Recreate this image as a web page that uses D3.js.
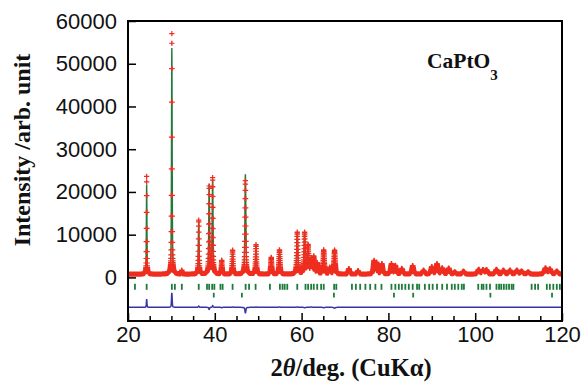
<!DOCTYPE html>
<html>
<head>
<meta charset="utf-8">
<script src="https://cdn.jsdelivr.net/npm/d3@7"></script>
<style>
  body { margin: 0; background: #fff; }
  svg { display: block; }
</style>
</head>
<body>
<svg id="chart" width="581" height="383"></svg>
<script>
const peakPos  = [24.3, 30.1, 32.4, 36.3, 38.7, 39.5, 41.6, 44.1, 47.05, 49.5, 53.0, 54.9, 59.0, 60.7, 61.5, 62.2, 62.8, 63.6, 65.1, 66.5, 67.6,
                  70.9, 73.0, 76.7, 77.3, 78.5, 80.7, 81.6, 83.1, 85.6, 88.1, 90.0, 91.2, 92.4, 93.9, 95.3, 97.3,
                  100.8, 101.8, 102.6, 104.9, 106.5, 108.0, 109.6, 110.7, 112.2, 116.2, 117.2, 118.8];
const peakObs  = [22900, 56300, 900, 12600, 20400, 22400, 3200, 5600, 22000, 6900, 3900, 5700, 9800, 9600, 6600, 3500, 4000, 2500, 5600, 1500, 5600,
                  1300, 800, 3100, 2600, 2400, 2400, 2000, 1300, 2000, 900, 1700, 2400, 1400, 1400, 500, 700,
                  1100, 1000, 1000, 1100, 900, 900, 900, 700, 500, 1400, 1200, 700];
const peakCalc = [21000, 52900, 900, 12300, 20900, 22000, 3300, 5500, 23300, 6800, 3900, 5600, 9700, 9700, 6600, 3400, 4000, 2500, 5700, 1500, 5800,
                  1300, 800, 3100, 2600, 2400, 2400, 2000, 1300, 2000, 900, 1700, 2400, 1400, 1400, 500, 700,
                  1100, 1000, 1000, 1100, 900, 900, 900, 700, 500, 1400, 1200, 700];
const background = 750;

// Bragg reflection positions: CaPtO3 (row 1) and Pt (row 2)
const braggMain = [21.6, 24.3, 30.1, 30.8, 32.4, 36.3, 38.2, 38.7, 39.4, 39.9, 41.3, 41.8, 44.1, 47.1, 47.9, 49.4, 52.7, 55.0, 55.6, 56.1, 56.7,
                   59.0, 60.9, 61.5, 62.2, 62.8, 63.6, 64.5, 65.1, 67.5, 68.0, 71.6, 72.5, 73.5, 74.7, 75.8, 77.0, 78.4, 80.7, 81.6, 82.4,
                   83.1, 83.9, 84.7, 85.6, 86.6, 87.1, 88.4, 89.4, 90.2, 91.2, 92.4, 93.5, 94.6, 95.3, 96.1, 96.9, 97.4, 100.7, 101.5, 101.9,
                   102.6, 103.4, 104.9, 105.5, 106.0, 106.6, 107.2, 107.8, 108.4, 108.8, 113.0, 113.8, 114.5, 116.5, 117.2, 118.0, 118.8, 119.5];
const braggPt = [39.76, 46.24, 67.45, 81.28, 85.71, 103.5, 117.7];

const xTicks = [20, 40, 60, 80, 100, 120];
const yTicks = [0, 10000, 20000, 30000, 40000, 50000, 60000];

const svg = d3.select('#chart');
const x = d3.scaleLinear().domain([20, 120]).range([128, 562]);
const y = d3.scaleLinear().domain([-10200, 60000]).range([321, 21]);

// simple pseudo-Voigt profile, width grows with angle
function profile(t, c) {
  const w = 0.13 + 0.005 * (c - 20);
  const d = (t - c) / w;
  return 0.5 / (1 + 4 * d * d) + 0.5 * Math.exp(-2.7726 * d * d);
}

const steps = d3.range(20, 120.001, 0.02);
const pattern = steps.map(t => {
  let o = background, c = background;
  peakPos.forEach((p, i) => {
    if (Math.abs(t - p) < 6) {
      const f = profile(t, p);
      o += peakObs[i] * f;
      c += peakCalc[i] * f;
    }
  });
  return {t: t, obs: o, calc: c, diff: o - c - 7000};
});

const plot = svg.append('g');

plot.append('defs').append('clipPath').attr('id', 'clip')
  .append('rect').attr('x', x(20)).attr('y', y(60000)).attr('width', x(120) - x(20)).attr('height', y(-10200) - y(60000));

const inner = plot.append('g').attr('clip-path', 'url(#clip)');

// calculated
inner.append('path')
  .datum(pattern)
  .attr('d', d3.line().x(d => x(d.t)).y(d => y(d.calc)))
  .attr('fill', 'none')
  .attr('stroke', '#1f7a3c')
  .attr('stroke-width', 1.4);

// observed as + markers
let crosses = '';
pattern.forEach(d => {
  const px = x(d.t), py = y(d.obs);
  crosses += 'M' + (px - 2.6) + ',' + py + 'h5.2M' + px + ',' + (py - 2.6) + 'v5.2';
});
inner.append('path')
  .attr('d', crosses)
  .attr('fill', 'none')
  .attr('stroke', '#ef2d1f')
  .attr('stroke-width', 1.2);

// Bragg ticks
inner.selectAll('.bragg1').data(braggMain).enter().append('line')
  .attr('x1', d => x(d)).attr('x2', d => x(d))
  .attr('y1', y(-1500)).attr('y2', y(-2900))
  .attr('stroke', '#1f7a3c').attr('stroke-width', 1.8);

inner.selectAll('.bragg2').data(braggPt).enter().append('line')
  .attr('x1', d => x(d)).attr('x2', d => x(d))
  .attr('y1', y(-3600)).attr('y2', y(-4700))
  .attr('stroke', '#1f7a3c').attr('stroke-width', 1.8);

// difference
inner.append('path')
  .datum(pattern)
  .attr('d', d3.line().x(d => x(d.t)).y(d => y(d.diff)))
  .attr('fill', 'none')
  .attr('stroke', '#3535a6')
  .attr('stroke-width', 1.5);

// axes
const minor = d3.range(25, 120, 5).filter(v => v % 20 !== 0);
plot.append('g')
  .attr('transform', 'translate(0,321)')
  .call(d3.axisBottom(x).tickValues(minor).tickSizeInner(-5).tickSizeOuter(0).tickFormat(''))
  .call(g => g.select('.domain').remove())
  .selectAll('line').attr('stroke-width', 1.5);

const xAxis = plot.append('g')
  .attr('transform', 'translate(0,321)')
  .call(d3.axisBottom(x).tickValues(xTicks).tickSizeInner(-8).tickSizeOuter(0).tickPadding(5));
xAxis.select('.domain').remove();
xAxis.selectAll('line').attr('stroke-width', 1.5);
xAxis.selectAll('text').attr('font-family', 'Liberation Sans, Arial, sans-serif').attr('font-size', 22).attr('fill', '#111');

const yAxis = plot.append('g')
  .attr('transform', 'translate(128,0)')
  .call(d3.axisLeft(y).tickValues(yTicks).tickSizeInner(-8).tickSizeOuter(0).tickPadding(11).tickFormat(d3.format('d')));
yAxis.select('.domain').remove();
yAxis.selectAll('line').attr('stroke-width', 1.5);
yAxis.selectAll('text').attr('font-family', 'Liberation Sans, Arial, sans-serif').attr('font-size', 22).attr('fill', '#111');

// frame
plot.append('rect')
  .attr('x', x(20)).attr('y', y(60000))
  .attr('width', x(120) - x(20)).attr('height', y(-10200) - y(60000))
  .attr('fill', 'none').attr('stroke', '#000').attr('stroke-width', 2);

// titles
const xt = svg.append('text')
  .attr('x', 351).attr('y', 376)
  .attr('text-anchor', 'middle')
  .attr('font-family', 'Liberation Serif, Times New Roman, serif')
  .attr('font-weight', 'bold')
  .attr('font-size', 24.5)
  .attr('fill', '#111');
xt.append('tspan').text('2');
xt.append('tspan').attr('font-style', 'italic').text('θ');
xt.append('tspan').text('/deg. (CuKα)');

svg.append('text')
  .attr('transform', 'translate(30,150) rotate(-90)')
  .attr('text-anchor', 'middle')
  .attr('font-family', 'Liberation Serif, Times New Roman, serif')
  .attr('font-weight', 'bold')
  .attr('font-size', 24)
  .attr('fill', '#111')
  .text('Intensity /arb. unit');

const lbl = svg.append('text')
  .attr('x', 427).attr('y', 68)
  .attr('font-family', 'Liberation Serif, Times New Roman, serif')
  .attr('font-weight', 'bold')
  .attr('font-size', 21.5)
  .attr('fill', '#111');
lbl.append('tspan').text('CaPtO');
lbl.append('tspan').attr('font-size', 15).attr('dy', 12).text('3');
</script>
</body>
</html>
